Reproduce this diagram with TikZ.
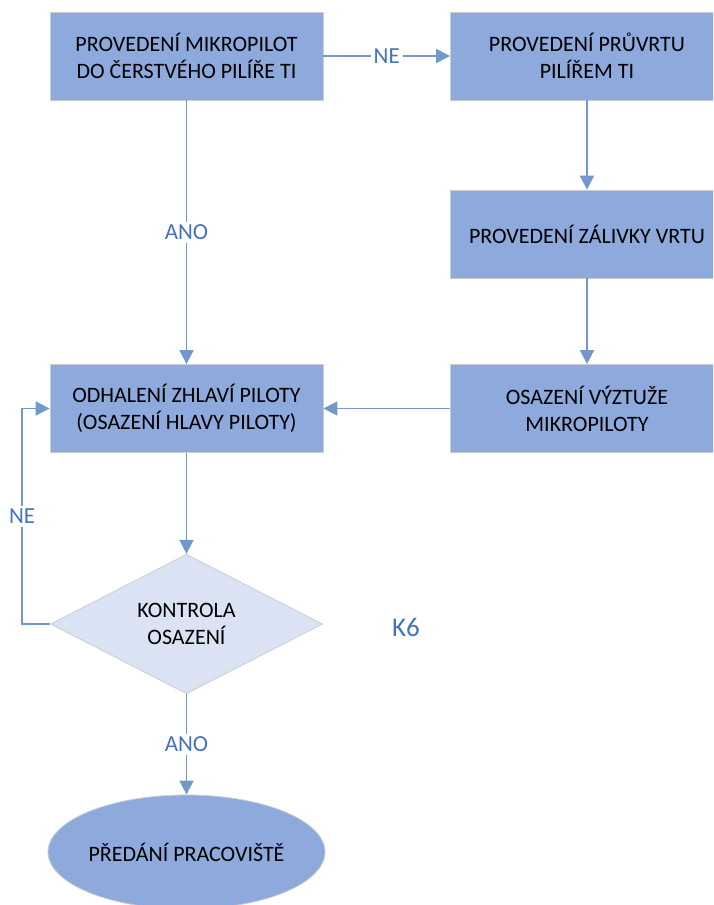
\documentclass[tikz,border=0pt]{standalone}
\usepackage{fontspec}
\setmainfont{Carlito}
\usetikzlibrary{shapes.geometric,arrows.meta}

\definecolor{krokmodra}{HTML}{8EA9DB}
\definecolor{dotazmodra}{HTML}{DAE3F3}
\definecolor{okraj}{HTML}{C9CDD3}
\definecolor{sipka}{HTML}{719ACB}
\definecolor{popismodra}{HTML}{4472C4}

\begin{document}
\begin{tikzpicture}[x=0.5pt,y=-0.5pt]
\tikzstyle{every node}+=[inner sep=0pt,font=\fontsize{11}{13.5}\selectfont]
\tikzstyle{krok}=[draw=okraj,fill=krokmodra,minimum width=136.5pt,minimum height=44pt,align=center]
\tikzstyle{dotaz}=[diamond,draw=okraj,fill=dotazmodra,minimum width=136pt,minimum height=68.5pt,align=center]
\tikzstyle{konec}=[ellipse,draw=okraj,fill=krokmodra,minimum width=136pt,minimum height=57pt]
\tikzstyle{spoj}=[sipka,line width=0.9pt,-{Triangle[width=7pt,length=7pt]}]
\tikzstyle{popis}=[fill=white,text=popismodra,inner sep=1.5pt,font=\fontsize{11.5}{13.5}\selectfont]
\clip (0,0) rectangle (713,905);
\fill[white] (0,0) rectangle (713,905);
% kroky postupu
\node[krok] (mikropiloty) at (186.5,56) {PROVEDENÍ MIKROPILOT\\DO ČERSTVÉHO PILÍŘE TI};
\node[krok] (pruvrt) at (587,56) {PROVEDENÍ PRŮVRTU\\PILÍŘEM TI};
\node[krok] (zalivka) at (587,234) {PROVEDENÍ ZÁLIVKY VRTU};
\node[krok] (vyztuz) at (587,408.5) {OSAZENÍ VÝZTUŽE\\MIKROPILOTY};
\node[krok] (zhlavi) at (186.5,408.5) {ODHALENÍ ZHLAVÍ PILOTY\\(OSAZENÍ HLAVY PILOTY)};
\node[dotaz] (kontrola) at (186.5,624) {KONTROLA\\OSAZENÍ};
\node[konec] (predani) at (186.5,852) {PŘEDÁNÍ PRACOVIŠTĚ};
\node[text=popismodra,font=\fontsize{13.5}{15}\selectfont] (k6) at (406,627) {K6};
% spojnice
\draw[spoj] (mikropiloty) -- node[popis]{NE} (pruvrt);
\draw[spoj] (mikropiloty) -- node[popis]{ANO} (zhlavi);
\draw[spoj] (pruvrt) -- (zalivka);
\draw[spoj] (zalivka) -- (vyztuz);
\draw[spoj] (vyztuz) -- (zhlavi);
\draw[spoj] (zhlavi) -- (kontrola);
\draw[spoj] (kontrola.west) -- ++(-28,0) |- node[popis,pos=0.25]{NE} (zhlavi.west);
\draw[spoj] (kontrola) -- node[popis]{ANO} (predani);
\end{tikzpicture}
\end{document}
